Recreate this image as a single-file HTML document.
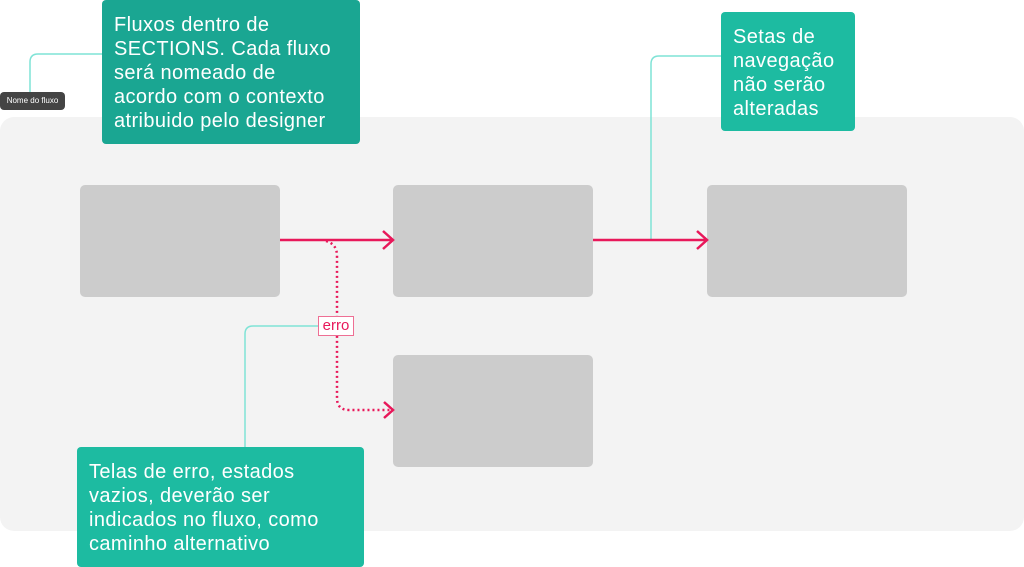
<!DOCTYPE html>
<html><head><meta charset="utf-8"><style>
body{margin:0;width:1024px;height:567px;background:#fff;position:relative;overflow:hidden;font-family:"Liberation Sans",sans-serif}
.a{position:absolute}
.bx{position:absolute;background:#cccccc;border-radius:5px;width:200px;height:112px}
.note{position:absolute;color:#fff;font-size:20px;letter-spacing:0.4px;line-height:24px;border-radius:4px;box-sizing:border-box;padding:13px 12px;white-space:nowrap}
</style></head><body>
<div class="a" style="left:0;top:117px;width:1024px;height:414px;background:#f3f3f3;border-radius:14px"></div>
<div class="bx" style="left:80px;top:185px"></div>
<div class="bx" style="left:393px;top:185px"></div>
<div class="bx" style="left:707px;top:185px"></div>
<div class="bx" style="left:393px;top:355px"></div>
<svg class="a" style="left:0;top:0" width="1024" height="567">
<g fill="none" stroke="#7fe3d6" stroke-width="1.5">
<path d="M30 92 V62 Q30 54 38 54 H102"/>
<path d="M721 56 H659 Q651 56 651 64 V240"/>
<path d="M245 447 V334 Q245 326 253 326 H318"/>
</g>
<g fill="none" stroke="#e8185a" stroke-width="2.5">
<path d="M280 240 H393 M383 231 L393 240 L383 249"/>
<path d="M593 240 H707 M697 231 L707 240 L697 249"/>
<path d="M384 402 L393 410 L384 418"/>
</g>
<path d="M326 241 Q337 244 337 256 V398 Q337 410 349 410 H392" fill="none" stroke="#e8185a" stroke-width="2.5" stroke-dasharray="2 3"/>
</svg>
<div class="a" style="left:318px;top:316px;width:36px;height:20px;box-sizing:border-box;border:1px solid #ee6f94;background:#fff;color:#e8185a;font-size:15px;line-height:18px;text-align:center">erro</div>
<div class="a" style="left:0;top:92px;width:65px;height:18px;background:#444;border-radius:4px;color:#fff;font-size:8px;line-height:18px;text-align:center">Nome do fluxo</div>
<div class="note" style="left:102px;top:0;width:258px;height:144px;background:#1aa692">Fluxos dentro de<br>SECTIONS. Cada fluxo<br>será nomeado de<br>acordo com o contexto<br>atribuido pelo designer</div>
<div class="note" style="left:721px;top:12px;width:134px;height:119px;background:#1dbba1">Setas de<br>navegação<br>não serão<br>alteradas</div>
<div class="note" style="left:77px;top:447px;width:287px;height:120px;background:#1dbba1">Telas de erro, estados<br>vazios, deverão ser<br>indicados no fluxo, como<br>caminho alternativo</div>
</body></html>
